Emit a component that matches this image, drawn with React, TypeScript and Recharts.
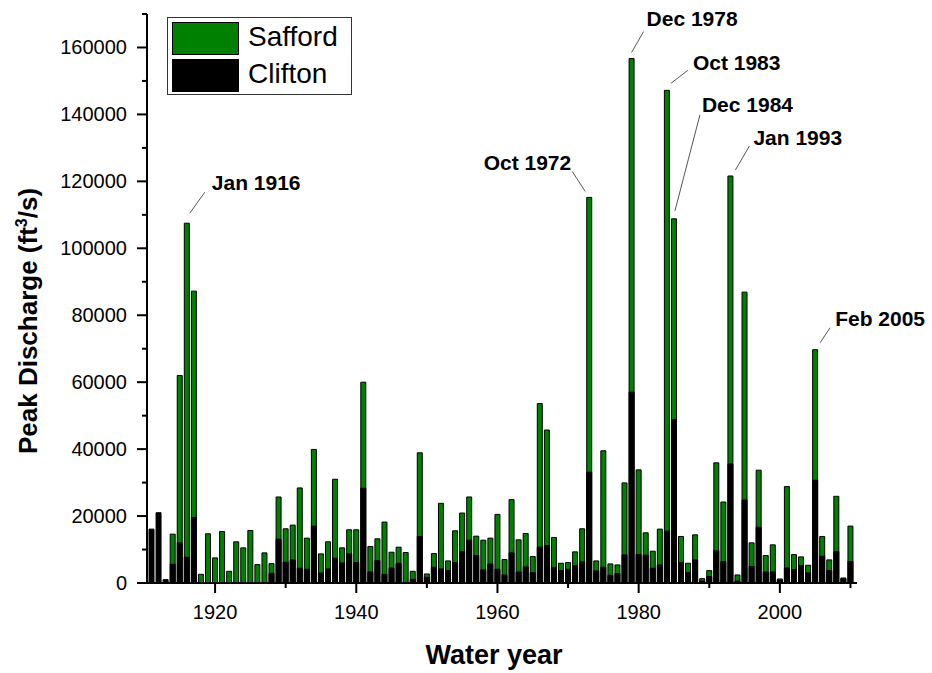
import { BarChart, Bar, XAxis, YAxis, Legend, LabelList, Label } from "recharts";

const FONT = '"Liberation Sans", Arial, sans-serif';

// water years 1911-2010
const years = Array.from({ length: 100 }, (_, i) => 1911 + i);

// peak discharge, ft3/s (null = no record)
const safford = [
  null, null, null, 14600, 62000, 107500, 87200, 2600, 14700, 7500, // 1911-1920
  15400, 3500, 12300, 10500, 15700, 5500, 9000, 5800, 25700, 16200, // 1921-1930
  17300, 28400, 13400, 39900, 8700, 12300, 31000, 10500, 15900, 15900, // 1931-1940
  60000, 10900, 13200, 18200, 9200, 10700, 9100, 3500, 38900, 2700, // 1941-1950
  8800, 23800, 6600, 15600, 20900, 25700, 14000, 12800, 13400, 20500, // 1951-1960
  7000, 24900, 12900, 14800, 7900, 53600, 45700, 13600, 5900, 6100, // 1961-1970
  9300, 16200, 115200, 6600, 39500, 5700, 5400, 29900, 156700, 33800, // 1971-1980
  15000, 9500, 16100, 147200, 108800, 13900, 5900, 14400, 1300, 3700, // 1981-1990
  35900, 24200, 121600, 2400, 86900, 12000, 33700, 8200, 11400, 1200, // 1991-2000
  28800, 8500, 7800, 5300, 69700, 13900, 6900, 25900, 1500, 17000, // 2001-2010
];

const clifton = [
  16100, 21000, 1000, 5600, 12000, 7700, 19600, null, null, null, // 1911-1920
  null, null, null, null, null, null, null, 2900, 13100, 6200, // 1921-1930
  6900, 4400, 4100, 17000, 3000, 4200, 7400, 6000, 8700, 6100, // 1931-1940
  28300, 3300, 6700, 2600, 4500, 5900, null, 1100, 13900, 1700, // 1941-1950
  4700, 4200, 3700, 6100, 9400, 12800, 8200, 3900, 5700, 4100, // 1951-1960
  2400, 9000, 3300, 4800, 3100, 10700, 11200, 4600, 3700, 4100, // 1961-1970
  5200, 6300, 33100, 3600, 4700, 2300, 2800, 8400, 57000, 8500, // 1971-1980
  8300, 4400, 5400, 15500, 48800, 6100, 3100, 6900, 600, 1900, // 1981-1990
  9600, 6400, 35600, 600, 24800, 4900, 16700, 3300, 3300, 800, // 1991-2000
  4500, 4000, 5200, 3000, 30700, 8000, 3700, 9400, 1200, 6400, // 2001-2010
];

const seriesNames = ["Safford", "Clifton"];
const seriesColors = ["#008000", "#000000"];

const yTicks = [0, 10000, 20000, 30000, 40000, 50000, 60000, 70000, 80000, 90000,
  100000, 110000, 120000, 130000, 140000, 150000, 160000, 170000];
const xTicks = [1920, 1930, 1940, 1950, 1960, 1970, 1980, 1990, 2000, 2010];

// flood events flagged on the chart
const noteYears = [1916, 1973, 1979, 1984, 1985, 1993, 2005];
const noteTexts = ["Jan 1916", "Oct 1972", "Dec 1978", "Oct 1983", "Dec 1984", "Jan 1993", "Feb 2005"];

// leader line / text offsets from bar top: [x1, y1, x2, y2, tx, ty, anchor]
const noteOffsets: [number, number, number, number, number, number, string][] = [
  [3, -10, 18, -31, 25, -33, "start"],
  [-4, -6, -17, -26, -18, -27, "end"],
  [0, -6, 12, -27, 15, -33, "start"],
  [4, -7, 21, -20, 26, -20, "start"],
  [1, -8, 26, -104, 28, -107, "start"],
  [5, -6, 19, -30, 23, -31, "start"],
  [5, -7, 15, -22, 20, -24, "start"],
];

const data = years.map((y, i) => ({ year: y, Safford: safford[i], Clifton: clifton[i] }));

function YTick(props: any) {
  const { x, y, payload } = props;
  const major = payload.value % 20000 === 0;
  return (
    <g>
      <line x1={x - (major ? 10 : 5)} x2={x} y1={y} y2={y} stroke="#000" strokeWidth={2} />
      {major && (
        <text x={x - 20} y={y} dy={7} textAnchor="end" fontSize={20} fontFamily={FONT} fill="#000">
          {payload.value}
        </text>
      )}
    </g>
  );
}

function XTick(props: any) {
  const { x, y, payload } = props;
  const major = payload.value % 20 === 0;
  return (
    <g>
      <line x1={x} x2={x} y1={y} y2={y + (major ? 10 : 5)} stroke="#000" strokeWidth={2} />
      {major && (
        <text x={x} y={y + 36} textAnchor="middle" fontSize={20} fontFamily={FONT} fill="#000">
          {payload.value}
        </text>
      )}
    </g>
  );
}

function renderNote(props: any) {
  const vb = props.viewBox && props.viewBox.x !== undefined ? props.viewBox : props;
  // find the year from the bar's own value
  const idx = safford.indexOf(props.value);
  if (idx < 0) return null;
  const k = noteYears.indexOf(years[idx]);
  if (k < 0) return null;
  const cx = vb.x + vb.width / 2;
  const top = vb.y;
  const [x1, y1, x2, y2, tx, ty, anchor] = noteOffsets[k];
  return (
    <g key={"note-" + k}>
      <line x1={cx + x1} y1={top + y1} x2={cx + x2} y2={top + y2} stroke="#555" strokeWidth={1} />
      <text x={cx + tx} y={top + ty} textAnchor={anchor as any} fontSize={21} fontWeight="bold" fontFamily={FONT} fill="#000">
        {noteTexts[k]}
      </text>
    </g>
  );
}

function LegendBox(props: any) {
  const items = [...(props.payload || [])].sort(
    (a: any, b: any) => seriesNames.indexOf(a.value) - seriesNames.indexOf(b.value)
  );
  return (
    <div style={{ position: "relative", width: 183, height: 76, border: "1px solid #333", background: "#fff", fontFamily: FONT }}>
      {items.map((it: any, i: number) => (
        <div key={it.value}>
          <div style={{ position: "absolute", left: 4, top: 4 + i * 36.5, width: 65, height: 31, background: seriesColors[seriesNames.indexOf(it.value)], border: "1px solid #000" }} />
          <div style={{ position: "absolute", left: 80, top: 1 + i * 36.5, fontSize: 28, lineHeight: "36px", color: "#000" }}>{it.value}</div>
        </div>
      ))}
    </div>
  );
}

export default function App() {
  return (
    <div style={{ position: "absolute", left: 0, top: 0, width: 932, height: 673, background: "#fff" }}>
      <BarChart width={932} height={673} data={data} margin={{ top: 14, right: 75, bottom: 0, left: 0 }} barSize={5} barGap={-5}>
        <XAxis
          dataKey="year"
          type="category"
          height={90}
          ticks={xTicks}
          interval={0}
          tickSize={0}
          tickMargin={0}
          tick={(p: any) => <XTick {...p} />}
          axisLine={{ stroke: "#000", strokeWidth: 2 }}
          padding={{ left: 1, right: 3 }}
        >
          <Label
            content={() => (
              <text x={494} y={664} textAnchor="middle" fontSize={27} fontWeight="bold" fontFamily={FONT} fill="#000">
                Water year
              </text>
            )}
          />
        </XAxis>
        <YAxis
          type="number"
          width={147}
          domain={[0, 170000]}
          ticks={yTicks}
          interval={0}
          tickSize={0}
          tickMargin={0}
          tick={(p: any) => <YTick {...p} />}
          axisLine={{ stroke: "#000", strokeWidth: 2 }}
        >
          <Label
            content={() => (
              <text transform="translate(37,321) rotate(-90)" x={0} y={0} textAnchor="middle" fontSize={26} fontWeight="bold" fontFamily={FONT} fill="#000">
                Peak Discharge (ft<tspan dy={-10} fontSize={16}>3</tspan><tspan dy={10}>/s)</tspan>
              </text>
            )}
          />
        </YAxis>
        <Legend
          layout="vertical"
          align="center"
          verticalAlign="middle"
          wrapperStyle={{ position: "absolute", left: 167, top: 17, width: "auto" }}
          content={(p: any) => <LegendBox {...p} />}
        />
        <Bar dataKey="Safford" name="Safford" fill={seriesColors[0]} stroke="#000" strokeWidth={1} isAnimationActive={false}>
          <LabelList dataKey="Safford" content={renderNote} />
        </Bar>
        <Bar dataKey="Clifton" name="Clifton" fill={seriesColors[1]} stroke="#000" strokeWidth={1} isAnimationActive={false} />
      </BarChart>
    </div>
  );
}
